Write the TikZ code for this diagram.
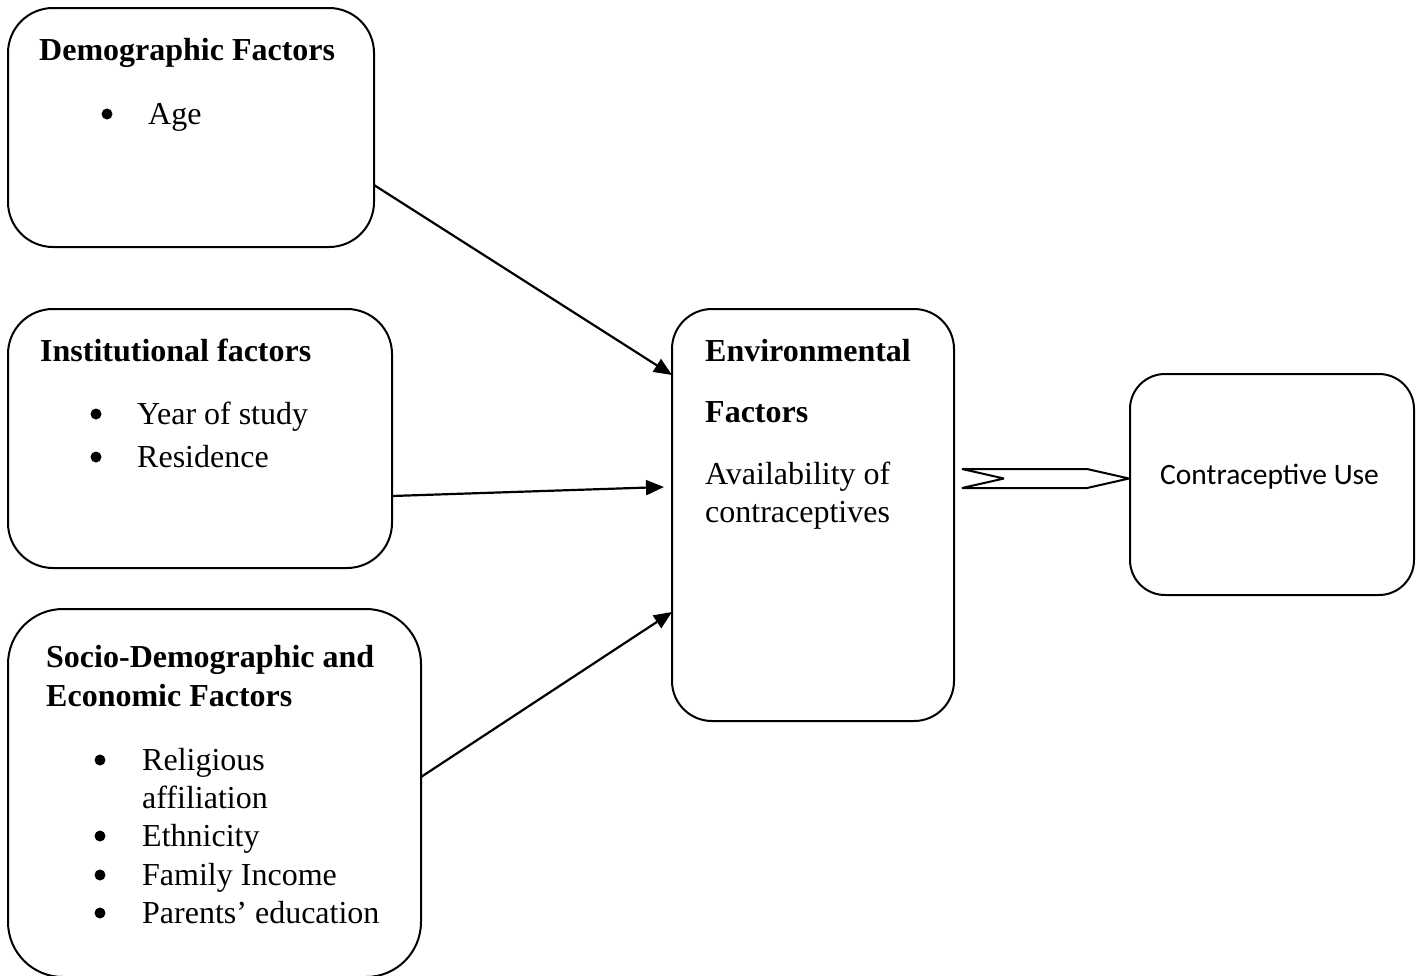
\documentclass[tikz,border=0pt]{standalone}
\usepackage{fontspec}
\setmainfont{Liberation Serif}
\newfontfamily\calib{Carlito}
\usetikzlibrary{arrows.meta}
\tikzset{
  box/.style={draw, line width=2pt, inner sep=0pt, outer sep=0pt},
  txt/.style={anchor=base west, inner sep=0pt, font=\fontsize{32}{38}\selectfont},
  ttl/.style={anchor=base west, inner sep=0pt, font=\fontsize{32}{38}\selectfont\bfseries},
  bul/.style={circle, fill, inner sep=0pt, minimum size=11pt},
  arr/.style={line width=2.2pt, -{Triangle[length=18pt,width=15pt]}},
}
\begin{document}
\begin{tikzpicture}[x=1pt,y=-1pt]
\useasboundingbox (0,0) rectangle (1422,975);
\clip (0,0) rectangle (1422,975);
% boxes
\node[box, rounded corners=45pt, minimum width=366pt, minimum height=239pt] (demo) at (191,127.5) {};
\node[box, rounded corners=45pt, minimum width=384pt, minimum height=259pt] (inst) at (200,438.5) {};
\node[box, rounded corners=55pt, minimum width=413pt, minimum height=368pt] (socio) at (214.5,793) {};
\node[box, rounded corners=40pt, minimum width=282pt, minimum height=412pt] (env) at (813,515) {};
\node[box, rounded corners=35pt, minimum width=284pt, minimum height=221pt] (cu) at (1272,484.5) {};
% demographic
\node[ttl] (demoT) at (39,60) {Demographic Factors};
\node[bul] (demoB1) at (107,114) {};
\node[txt] (demoI1) at (148,124) {Age};
% institutional
\node[ttl] (instT) at (40,361) {Institutional factors};
\node[bul] (instB1) at (96,414) {};
\node[txt] (instI1) at (137,424) {Year of study};
\node[bul] (instB2) at (96,457) {};
\node[txt] (instI2) at (137,467) {Residence};
% socio
\node[ttl] (socT1) at (46,667) {Socio-Demographic and};
\node[ttl] (socT2) at (46,706) {Economic Factors};
\node[bul] (socB1) at (100,760) {};
\node[txt] (socI1) at (142,770) {Religious};
\node[txt] (socI1b) at (142,808) {affiliation};
\node[bul] (socB2) at (100,836) {};
\node[txt] (socI2) at (142,846) {Ethnicity};
\node[bul] (socB3) at (100,875) {};
\node[txt] (socI3) at (142,885) {Family Income};
\node[bul] (socB4) at (100,913) {};
\node[txt] (socI4) at (142,923) {Parents' education};
% environmental
\node[ttl] (envT1) at (705,361) {Environmental};
\node[ttl] (envT2) at (705,422) {Factors};
\node[txt] (envI1) at (705,484) {Availability of};
\node[txt] (envI2) at (705,522) {contraceptives};
% contraceptive use
\node[anchor=base west, inner sep=0pt, font=\calib\fontsize{29.5}{36}\selectfont] (cuT) at (1160,484) {Contraceptive Use};
% connectors
\coordinate (a1s) at (374,185);
\coordinate (a1e) at (672,375);
\coordinate (a2s) at (392,496);
\coordinate (a2e) at (664,487);
\coordinate (a3s) at (421,777);
\coordinate (a3e) at (672,612);
\draw[arr] (a1s) -- (a1e);
\draw[arr] (a2s) -- (a2e);
\draw[arr] (a3s) -- (a3e);
% block arrow
\coordinate (b1) at (962,469);
\coordinate (b2) at (1087,469);
\coordinate (b3) at (1129,478.5);
\coordinate (b4) at (1087,488);
\coordinate (b5) at (962,488);
\coordinate (b6) at (1004,478.5);
\draw[line width=2pt, line join=miter, miter limit=1.5] (b1) -- (b2) -- (b3) -- (b4) -- (b5) -- (b6) -- cycle;
\end{tikzpicture}
\end{document}
